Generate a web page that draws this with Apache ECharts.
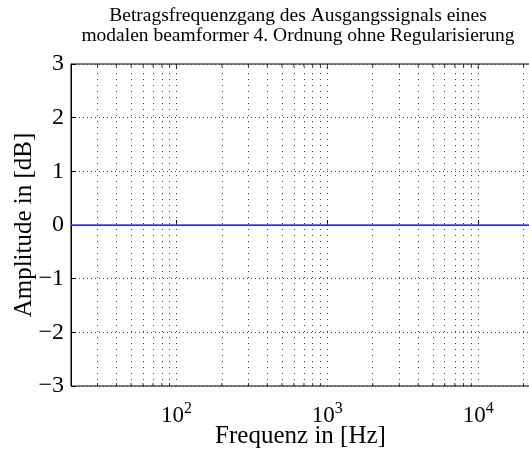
<!DOCTYPE html>
<html>
<head>
<meta charset="utf-8">
<script src="https://cdn.jsdelivr.net/npm/echarts@6/dist/echarts.min.js"></script>
<style>html,body{margin:0;padding:0;background:#fff}#c{width:529px;height:452px}</style>
</head>
<body>
<div id="c"></div>
<script>
const titleText = 'Betragsfrequenzgang des Ausgangssignals eines\nmodalen beamformer 4. Ordnung ohne Regularisierung';
const xAxisName = 'Frequenz in [Hz]';
const yAxisName = 'Amplitude in [dB]';
const freqHz = [20, 50, 100, 200, 500, 1000, 2000, 5000, 10000, 22050];
const amplitudeDb = [0, 0, 0, 0, 0, 0, 0, 0, 0, 0];
const xMin = 20, xMax = 22050;
const yMin = -3, yMax = 3, yStep = 1;
const xMajorGrid = [100, 1000, 10000];
const xMinorGrid = [30, 40, 50, 60, 70, 80, 90, 200, 300, 400, 500, 600, 700, 800, 900,
  2000, 3000, 4000, 5000, 6000, 7000, 8000, 9000, 20000];

const FONT = 'Liberation Serif';
const chart = echarts.init(document.getElementById('c'), null, {renderer: 'canvas'});

function isPow10(v) {
  const l = Math.log10(v);
  return Math.abs(l - Math.round(l)) < 1e-9;
}

const gridLines = xMajorGrid.concat(xMinorGrid).map(v => ({xAxis: v}));

function tickSeries(values, yv, len, dir) {
  return {
    type: 'scatter', silent: true, z: 6,
    symbol: 'rect', symbolSize: [1, len], symbolOffset: [0, dir * len / 2],
    itemStyle: {color: '#000'},
    data: values.map(v => [v, yv])
  };
}

chart.setOption({
  animation: false,
  backgroundColor: '#fff',
  title: {
    text: titleText,
    left: 293,
    top: 1,
    textAlign: 'center',
    textStyle: {fontFamily: FONT, fontSize: 19.5, fontWeight: 'normal', color: '#000', lineHeight: 20}
  },
  grid: {
    left: 71, right: -1, top: 64, bottom: 66, containLabel: false, outerBoundsMode: 'none',
    show: true, borderColor: '#000', borderWidth: 1, backgroundColor: 'transparent'
  },
  xAxis: {
    type: 'log', logBase: 10, min: xMin, max: xMax,
    name: xAxisName, nameLocation: 'middle', nameGap: 38, nameMoveOverlap: false,
    nameTextStyle: {fontFamily: FONT, fontSize: 25, color: '#000'},
    axisLine: {show: true, lineStyle: {color: '#000', width: 1}},
    axisTick: {show: true, inside: true, length: 5, lineStyle: {color: '#000'}},
    splitLine: {show: false},
    axisLabel: {
      margin: 15,
      formatter: function (v) {
        if (!isPow10(v)) return '';
        return '{b|10}{s|' + Math.round(Math.log10(v)) + '}';
      },
      rich: {
        b: {fontFamily: FONT, fontSize: 23, color: '#000'},
        s: {fontFamily: FONT, fontSize: 16, color: '#000', padding: [0, 0, 13, 0]}
      }
    }
  },
  yAxis: {
    type: 'value', min: yMin, max: yMax, interval: yStep,
    name: yAxisName, nameLocation: 'middle', nameGap: 34, nameMoveOverlap: false,
    nameTextStyle: {fontFamily: FONT, fontSize: 25, color: '#000'},
    axisLine: {show: true, lineStyle: {color: '#000', width: 1}},
    axisTick: {show: true, inside: true, length: 5, lineStyle: {color: '#000'}},
    splitLine: {show: true, lineStyle: {color: '#444', width: 1, type: [1, 3]}},
    axisLabel: {
      margin: 7, fontFamily: FONT, fontSize: 24, color: '#000',
      formatter: v => (v < 0 ? '\u2212' + Math.abs(v) : String(v))
    }
  },
  series: [{
    type: 'line',
    data: freqHz.map((f, i) => [f, amplitudeDb[i]]),
    showSymbol: false,
    lineStyle: {color: '#3f3fff', width: 1.5},
    itemStyle: {color: '#3f3fff'},
    z: 5,
    markLine: {
      silent: true, symbol: 'none', label: {show: false},
      lineStyle: {color: '#444', width: 1, type: [1, 5]},
      data: gridLines,
      z: 1
    }
  },
  tickSeries(xMinorGrid, yMin, 3, -1),
  tickSeries(xMinorGrid, yMax, 3, 1),
  tickSeries(xMajorGrid, yMax, 5, 1)
  ]
});
</script>
</body>
</html>
